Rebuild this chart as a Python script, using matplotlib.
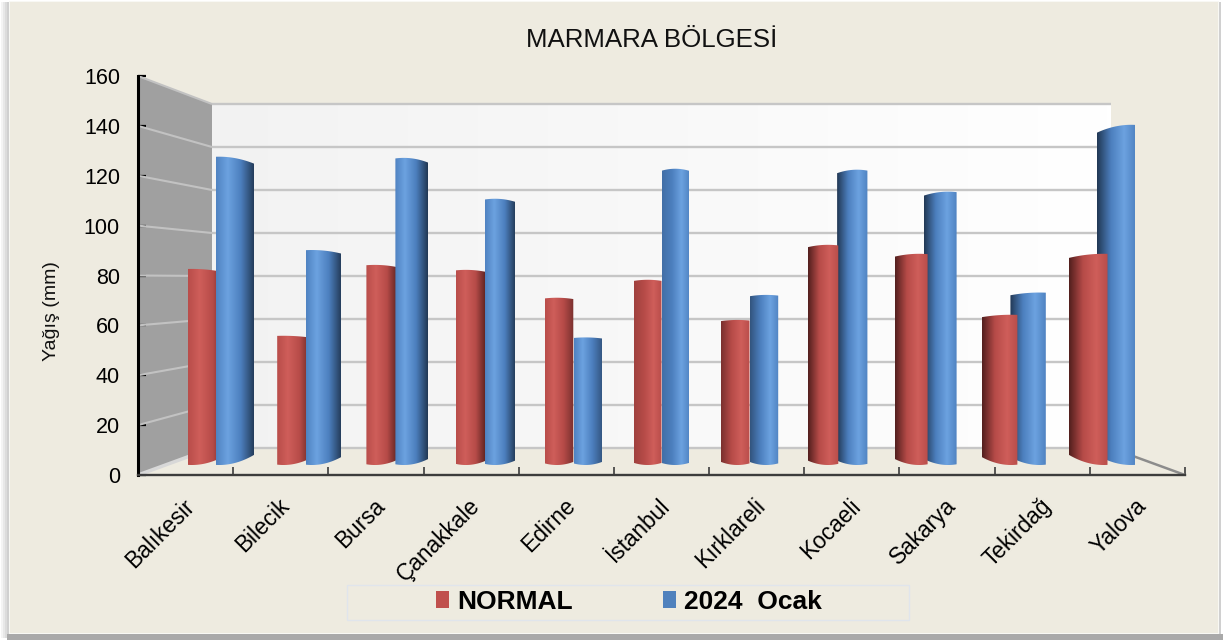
import numpy as np
import matplotlib
matplotlib.use('Agg')
import matplotlib.pyplot as plt
from matplotlib.patches import Polygon, Rectangle
from matplotlib.transforms import ScaledTranslation

plt.rcParams['font.family'] = ['Liberation Sans', 'DejaVu Sans']

cities = ['Balıkesir', 'Bilecik', 'Bursa', 'Çanakkale', 'Edirne', 'İstanbul',
          'Kırklareli', 'Kocaeli', 'Sakarya', 'Tekirdağ', 'Yalova']
normal = [83, 54.7, 84.7, 82.6, 70.8, 78.4, 61.4, 93.2, 89.4, 63.6, 89.4]
ocak = [130.5, 91, 130, 112.7, 54, 125.4, 72, 125, 115.7, 73, 144]
y_ticks = [0, 20, 40, 60, 80, 100, 120, 140, 160]

W, H = 1223, 640
# plot box in pixels
L, R, T, B = 138, 1185, 76, 475
PX = (R - L) / 11
PY = (B - T) / 160
# depth of the back wall and of the bar row
back_x0, back_x1 = (212 - L) / PX, (1111 - L) / PX
back_b, back_k = (B - 448) / PY, 344 / 399
bar_b, bar_k = (B - 465) / PY, 378 / 399
bar_kx = 88.1 / PX

fig = plt.figure(figsize=(W / 100, H / 100), dpi=100, facecolor='white')

# picture frame with its shadow
bg = fig.add_axes([0, 0, 1, 1], zorder=0)
bg.set_xlim(0, W)
bg.set_ylim(H, 0)
bg.axis('off')
for off, c in [(8, '#f4f4f4'), (6, '#e8e8e8'), (4, '#dcdcdc'), (2, '#d0d0d0')]:
    bg.add_patch(Rectangle((9 - off, 2), 1221 - 9 + off, 636, fc=c, ec='none'))
bg.add_patch(Rectangle((9 - 2, 634), 1223 - 7, 6, fc='#a9a9a9', ec='none'))
bg.add_patch(Rectangle((9, 1), 1210, 633, fc='#f8f8f4', ec='none'))
bg.add_patch(Rectangle((10, 2), 1208, 631, fc='#eeebe0', ec='none'))
# legend box
bg.add_patch(Rectangle((347, 585), 562, 35, fc='none', ec='#e0e5ec', lw=1))

ax = fig.add_axes([L / W, 1 - B / H, (R - L) / W, (B - T) / H], zorder=1)
ax.patch.set_alpha(0)


def mix(a, b, t):
    return tuple(a[i] + (b[i] - a[i]) * t for i in range(3))


def rgb(h):
    return matplotlib.colors.to_rgb(h)


def gradient(stops, n=128):
    xs = np.linspace(0, 1, n)
    pos = [p for p, _ in stops]
    out = np.zeros((1, n, 3))
    for k in range(3):
        out[0, :, k] = np.interp(xs, pos, [c[k] for _, c in stops])
    return out


# back wall, light grey on the left going to white
wall = np.linspace(0.95, 1.0, 128)[None, :, None].repeat(3, axis=2)
ax.imshow(wall, extent=[back_x0, back_x1, back_b, back_b + back_k * 160],
          aspect='auto', zorder=1, interpolation='bilinear')
# side wall
ax.add_patch(Polygon([(0, 0), (back_x0, back_b), (back_x0, back_b + back_k * 160), (0, 160)],
                     fc='#a0a0a0', ec='none', zorder=1.5))
ax.plot([0, back_x0], [0, back_b], color='#d8d8d8', lw=2.5, zorder=1.6)
# grid lines on both walls
for v in y_ticks[1:]:
    yb = back_b + back_k * v
    ax.plot([back_x0, back_x1], [yb, yb], color='#c6c6c6', lw=1.7, zorder=2, solid_capstyle='butt')
    ax.plot([0, back_x0], [v, yb], color='#c2c2c2', lw=1.5, zorder=2, solid_capstyle='butt')
ax.plot([back_x0, back_x1], [back_b, back_b], color='#c6c6c6', lw=1.7, zorder=2)
# floor edge on the right
ax.plot([back_x1, 11], [back_b, 0], color='#8c8c8c', lw=1.8, zorder=2)


def draw_bar(i, value, side, bright, mid, dark, z):
    s = (i - 5) / 5
    a = abs(s)
    half = (27.5 + 5.5 * a) / PX
    wid = (27.5 + 11 * a ** 1.5) / PX
    centre = 5.5 + bar_kx * (i - 5)
    x0 = centre - half if side == 'left' else centre + half - wid
    x1 = x0 + wid
    u = np.linspace(-1, 1, 60)
    xs = x0 + (u + 1) / 2 * wid
    u0 = s * 0.8
    bottom = bar_b + 2.6 * (u - u0) ** 2 / PY * (0.8 + 0.4 * a)
    top = bar_b + bar_k * value - (2.0 * (value / 144) ** 2 * (u - u0) ** 2 + 0.5 * (u - u0) ** 2) / PY
    pts = list(zip(xs, top)) + list(zip(xs[::-1], bottom[::-1]))
    shape = Polygon(pts, transform=ax.transData, fc='none', ec='none')
    t = 0.2 + 0.7 * min(1, a * 2.5)
    edge = mix(mid, dark, t)
    if s >= 0:
        stops = [(0, edge), (0.36, mid), (0.7, bright), (1, mix(mid, bright, 0.1))]
    else:
        stops = [(0, mix(mid, bright, 0.1)), (0.3, bright), (0.64, mid), (1, edge)]
    im = ax.imshow(gradient(stops), extent=[x0, x1, bar_b - 5, top.max() + 1], aspect='auto',
                   zorder=z, interpolation='bilinear')
    im.set_clip_path(shape)


blue = (rgb('#6ca2e0'), rgb('#4c7fbe'), rgb('#1d3048'))
red = (rgb('#cf5e5a'), rgb('#b64b48'), rgb('#471a19'))
for i in range(len(cities)):
    # the bar nearer the centre of the view sits in front
    zr, zb = (3, 3.1) if i < 5 else (3.1, 3)
    draw_bar(i, normal[i], 'left', *red, zr + i * 0.001)
    draw_bar(i, ocak[i], 'right', *blue, zb + i * 0.001)

ax.set_xlim(0, 11)
ax.set_ylim(0, 160)
for side in ['top', 'right']:
    ax.spines[side].set_visible(False)
ax.spines['left'].set_linewidth(2.2)
ax.spines['left'].set_color('black')
ax.spines['bottom'].set_linewidth(1.7)
ax.spines['bottom'].set_color('#3c3c3c')
ax.spines['left'].set_zorder(5)
ax.spines['bottom'].set_zorder(5)

ax.set_yticks(y_ticks)
ax.tick_params(axis='y', direction='in', length=5.5, width=1.6, color='black', labelsize=15.5, pad=13)
ax.set_xticks(np.arange(11) + 0.5)
ax.set_xticklabels(cities, rotation=45, ha='right', rotation_mode='anchor', fontsize=16.3)
ax.tick_params(axis='x', which='major', length=0, pad=14)
ax.set_xticks(np.arange(12), minor=True)
ax.tick_params(axis='x', which='minor', direction='in', length=5.5, width=1.2, color='#3c3c3c')
for lab in ax.get_xticklabels():
    lab.set_transform(lab.get_transform() + ScaledTranslation(-3 / 100, 0, fig.dpi_scale_trans))

fig.text(652 / W, 1 - 40 / H, 'MARMARA BÖLGESİ', ha='center', va='center', fontsize=18.6, color='#111111')
fig.text(52 / W, 1 - 311 / H, 'Yağış (mm)', rotation=90, ha='center', va='center', fontsize=14, color='#111111')

handles = [Rectangle((0, 0), 1, 1, fc='#c0504d'), Rectangle((0, 0), 1, 1, fc='#4f81bd')]
fig.legend(handles, ['NORMAL', '2024  Ocak'], loc='center', bbox_to_anchor=(629 / W, 1 - 602 / H),
           ncol=2, frameon=False, handlelength=0.5, handleheight=0.62, handletextpad=0.3,
           columnspacing=3.4, borderpad=0, prop={'weight': 'bold', 'size': 19})

fig.savefig('out.png', dpi=100)
